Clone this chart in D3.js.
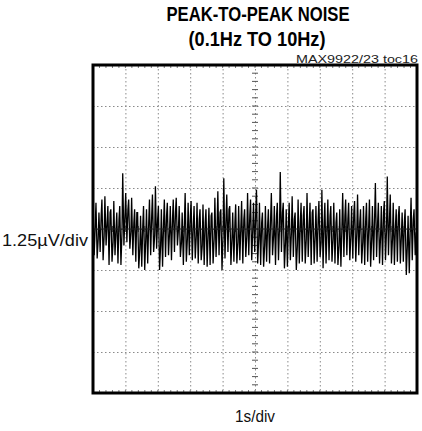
<!DOCTYPE html>
<meta charset="utf-8">
<style>
body { margin: 0; background: #fff; }
.grid line { stroke: #8a8a8a; stroke-width: 1; stroke-dasharray: 1.5,2.5; }
.grid path { display: none; }
.trace { fill: none; stroke: #000; stroke-width: 1.3px; stroke-linejoin: miter; }
</style>
<svg id="scope" width="422" height="431"></svg>
<script src="https://cdn.jsdelivr.net/npm/d3@7/dist/d3.min.js"></script>
<script>
// Peak-to-peak noise, 0.1Hz to 10Hz, 1s/div x 1.25uV/div
var timeDivs = d3.range(0, 11);              // seconds
var voltDivs = [-5, -3.75, -2.5, -1.25, 0, 1.25, 2.5, 3.75, 5]; // uV

// upper / lower excursion and an in-between wiggle of the trace per column (uV),
// read off the scope shot
var upper = [0.6, 0.8, 0.5, 0.9, 1.0, 0.7, 0.6, 0.85, 0.5, 0.7,
  1.7, 1.1, 0.9, 0.95, 0.6, 0.5, 0.4, 0.7, 0.6, 0.9,
  1.05, 1.3, 0.7, 0.6, 0.9, 0.8, 0.7, 0.9, 0.95, 0.7,
  0.5, 1.1, 0.8, 0.85, 0.7, 0.8, 0.6, 0.75, 0.6, 0.65,
  0.5, 0.95, 1.15, 0.6, 1.55, 1.05, 0.7, 0.5, 0.75, 0.7,
  0.85, 0.6, 1.1, 0.9, 0.8, 1.2, 0.8, 0.5, 0.7, 0.6,
  1.1, 0.7, 0.8, 1.74, 0.8, 0.6, 0.8, 1.0, 0.5, 0.9,
  0.8, 0.7, 1.1, 0.8, 0.6, 0.7, 0.85, 1.2, 0.8, 0.9,
  0.7, 0.8, 0.5, 0.6, 1.1, 0.9, 0.8, 0.7, 0.85, 1.05,
  0.6, 0.7, 0.8, 0.9, 0.7, 1.4, 0.8, 0.7, 0.85, 1.6,
  1.05, 0.8, 0.6, 0.7, 0.5, 0.6, 0.4, 0.95, 0.6];
var lower = [-0.8, -0.9, -0.7, -0.95, -0.5, -1.1, -1.0, -0.8, -1.05, -1.1,
  -0.5, -0.4, -0.6, -0.8, -1.0, -1.2, -1.15, -1.25, -1.05, -0.8,
  -0.7, -0.6, -1.25, -1.15, -0.85, -0.8, -0.95, -0.7, -0.5, -0.85,
  -1.1, -1.0, -0.8, -0.95, -0.9, -1.05, -0.95, -1.1, -1.15, -1.1,
  -1.05, -0.85, -0.8, -1.25, -0.9, -0.7, -1.1, -1.0, -1.05, -0.95,
  -1.05, -0.85, -0.8, -0.95, -0.7, -1.05, -1.1, -1.15, -1.0, -1.05,
  -0.8, -1.1, -0.95, -0.7, -1.2, -1.15, -0.95, -0.85, -1.25, -1.05,
  -1.0, -1.05, -0.85, -1.1, -1.05, -1.0, -0.85, -1.2, -1.05, -0.95,
  -1.0, -1.05, -1.1, -1.15, -0.85, -0.8, -0.95, -0.9, -1.0, -0.8,
  -1.05, -1.1, -1.0, -1.15, -0.95, -0.85, -1.05, -1.1, -0.95, -0.8,
  -1.05, -1.1, -1.0, -1.05, -1.0, -1.4, -1.35, -0.95, -0.8];
var mid = [0.1, -0.3, 0.4, -0.2, 0.2, 0.5, -0.4, 0.0, 0.3, -0.1,
  0.4, 0.6, -0.1, 0.2, 0.5, -0.6, 0.1, -0.3, 0.2, 0.4,
  -0.2, 0.3, -0.5, 0.2, 0.4, -0.1, 0.3, 0.5, 0.0, -0.4,
  0.2, -0.3, 0.4, 0.1, -0.2, 0.3, -0.5, 0.2, -0.1, 0.4,
  -0.3, 0.1, 0.5, -0.2, 0.3, 0.6, -0.3, 0.2, -0.4, 0.1,
  0.3, -0.2, 0.4, 0.0, 0.5, -0.3, 0.2, -0.5, 0.1, 0.3,
  -0.2, 0.4, 0.1, 0.5, -0.4, 0.2, -0.1, 0.3, -0.5, 0.2,
  0.4, -0.3, 0.1, 0.5, -0.2, 0.3, -0.4, 0.2, 0.0, 0.4,
  -0.3, 0.2, -0.5, 0.1, 0.4, 0.3, -0.2, 0.5, -0.1, 0.2,
  -0.4, 0.3, 0.1, -0.3, 0.4, 0.2, -0.2, 0.5, 0.0, 0.3,
  -0.3, 0.1, 0.4, -0.2, 0.2, -0.5, 0.1, 0.3, -0.1];

var margin = {top: 65, right: 5, bottom: 38, left: 93},
    width = 422 - margin.left - margin.right,
    height = 431 - margin.top - margin.bottom;

var svg = d3.select("#scope");
var g = svg.append("g").attr("transform", "translate(" + margin.left + "," + margin.top + ")");

var x = d3.scaleLinear().domain([0, 10]).range([0, width]);
var y = d3.scaleLinear().domain([-5, 5]).range([height, 0]);
var col = d3.scaleLinear().domain([0, upper.length]).range([0, 10]);

// dotted graticule
g.append("g")
    .attr("class", "grid")
    .call(d3.axisBottom(x).tickValues(timeDivs).tickSize(height).tickFormat(""));
g.append("g")
    .attr("class", "grid")
    .call(d3.axisRight(y).tickValues(voltDivs).tickSize(width).tickFormat(""));

// minor ticks on the centre cross
var minorT = d3.range(0, 10.01, 0.2), minorV = d3.range(-5, 5.01, 0.25);
g.append("g").selectAll("line").data(minorV).join("line")
    .attr("x1", x(5) - 3).attr("x2", x(5) + 3)
    .attr("y1", function(d) { return y(d); }).attr("y2", function(d) { return y(d); })
    .attr("stroke", "#555").attr("stroke-width", 1);
g.append("g").selectAll("line").data(minorT).join("line")
    .attr("y1", y(0) - 3).attr("y2", y(0) + 3)
    .attr("x1", function(d) { return x(d); }).attr("x2", function(d) { return x(d); })
    .attr("stroke", "#555").attr("stroke-width", 1);
// small ticks along top and bottom edges
g.append("g").selectAll("line").data(minorT).join("line")
    .attr("y1", 0).attr("y2", 3)
    .attr("x1", function(d) { return x(d); }).attr("x2", function(d) { return x(d); })
    .attr("stroke", "#777");
g.append("g").selectAll("line").data(minorT).join("line")
    .attr("y1", height - 3).attr("y2", height)
    .attr("x1", function(d) { return x(d); }).attr("x2", function(d) { return x(d); })
    .attr("stroke", "#777");

// noise trace: per column go up, down, then to the in-between wiggle
var step = col(1) - col(0);
var pts = [];
upper.forEach(function(u, i) {
  pts.push([col(i), u]);
  pts.push([col(i) + step * 0.4, lower[i]]);
  pts.push([col(i) + step * 0.75, mid[i]]);
});
var line = d3.line()
    .x(function(d) { return x(Math.max(0, Math.min(10, d[0]))); })
    .y(function(d) { return y(d[1]); });
g.append("path").datum(pts).attr("class", "trace").attr("d", line);

// centre horizontal line
g.append("line")
    .attr("x1", 0).attr("x2", width)
    .attr("y1", y(0)).attr("y2", y(0))
    .attr("stroke", "#222").attr("stroke-width", 1.2);

// frame
g.append("rect")
    .attr("width", width).attr("height", height)
    .attr("fill", "none").attr("stroke", "#000").attr("stroke-width", 3);

// texts
var font = "'Liberation Sans', Arial, sans-serif";
var title = svg.append("g")
    .attr("font-family", font)
    .attr("font-weight", "bold").attr("font-size", 21)
    .attr("text-anchor", "middle").attr("fill", "#000");
title.append("text").attr("x", 258).attr("y", 21)
    .attr("textLength", 183).attr("lengthAdjust", "spacingAndGlyphs")
    .text("PEAK-TO-PEAK NOISE");
title.append("text").attr("x", 257).attr("y", 46)
    .attr("textLength", 137).attr("lengthAdjust", "spacingAndGlyphs")
    .text("(0.1Hz TO 10Hz)");

svg.append("text")
    .attr("x", 418).attr("y", 63)
    .attr("text-anchor", "end")
    .attr("font-family", font)
    .attr("font-size", 11).attr("fill", "#222")
    .attr("textLength", 122).attr("lengthAdjust", "spacingAndGlyphs")
    .text("MAX9922/23 toc16");

svg.append("text")
    .attr("x", 2).attr("y", 246)
    .attr("font-family", font)
    .attr("font-size", 17).attr("fill", "#111")
    .attr("textLength", 86).attr("lengthAdjust", "spacingAndGlyphs")
    .text("1.25\u00b5V/div");

svg.append("text")
    .attr("x", margin.left + x(5)).attr("y", 422)
    .attr("text-anchor", "middle")
    .attr("font-family", font)
    .attr("font-size", 17).attr("fill", "#111")
    .attr("textLength", 40).attr("lengthAdjust", "spacingAndGlyphs")
    .text("1s/div");
</script>
